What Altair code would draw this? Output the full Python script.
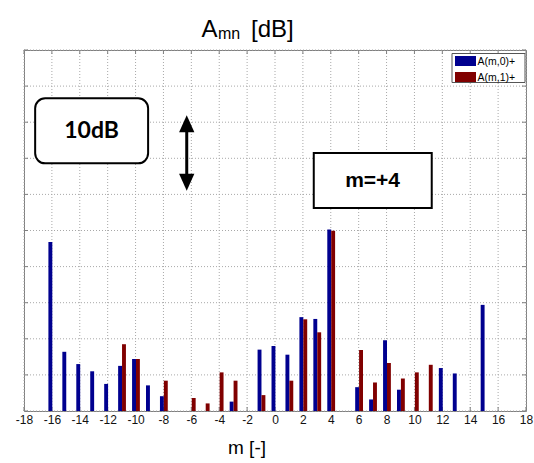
import altair as alt
import pandas as pd

# Modal amplitudes per circumferential order m, two radial families
m_n0 = [-16, -15, -14, -13, -12, -11, -10, -9, -8, -3, -1, 0, 1, 2, 3, 4, 6, 7, 8, 9, 12, 13, 15]
amp_n0 = [46.8, 16.4, 13.0, 11.0, 7.5, 12.5, 14.4, 7.1, 4.1, 2.6, 17.0, 18.0, 15.6, 26.0, 25.5,
          50.3, 6.6, 3.2, 19.6, 5.9, 11.9, 10.4, 29.4]
m_n1 = [-11, -10, -8, -6, -5, -4, -3, -1, 1, 2, 3, 4, 6, 7, 8, 9, 10, 11]
amp_n1 = [18.5, 14.4, 8.4, 3.6, 2.1, 10.7, 8.4, 4.4, 8.4, 25.4, 21.8, 49.9, 16.9, 7.9, 13.3,
          9.0, 10.7, 12.8]
series_names = ["A(m,0)+", "A(m,1)+"]
series_colors = ["#00008f", "#800000"]
x_ticks = list(range(-18, 19, 2))
y_grid = list(range(0, 101, 10))

FONT = "Liberation Sans"
W, H = 502, 361
FRAME = "#808080"

bars_df = pd.concat([
    pd.DataFrame({"m": m_n0, "A": amp_n0, "series": series_names[0]}),
    pd.DataFrame({"m": m_n1, "A": amp_n1, "series": series_names[1]}),
], ignore_index=True)

x_scale = alt.Scale(domain=[-18, 18], nice=False, zero=False)
y_scale = alt.Scale(domain=[0, 100], nice=False)
x_axis = alt.Axis(values=x_ticks, labelExpr="'' + datum.value", grid=False, ticks=False,
                  domain=False, labelFont=FONT, labelFontSize=12, labelColor="#111111",
                  labelPadding=3, labelFlush=False, labelOverlap=False, title=None)
y_axis = alt.Axis(values=y_grid, labels=False, ticks=False, domain=False, grid=False, title=None)


def xq(field):
    return alt.X(field, scale=x_scale, axis=x_axis)


def yq(field):
    return alt.Y(field, scale=y_scale, axis=y_axis)


# Dotted grid drawn from the tick arrays
xt_df = pd.DataFrame({"m": x_ticks})
yt_df = pd.DataFrame({"v": y_grid})
grid_x = alt.Chart(xt_df).mark_rule(
    color="#a8a8a8", strokeWidth=1, strokeDash=[1, 2]
).encode(x=xq("m:Q"))
grid_y = alt.Chart(yt_df).mark_rule(
    color="#a8a8a8", strokeWidth=1, strokeDash=[1, 2]
).encode(y=yq("v:Q"))

# Short inward ticks on all four sides of the frame
tick_bottom = alt.Chart(xt_df).mark_rule(color=FRAME, strokeWidth=1).encode(
    x=xq("m:Q"), y=alt.value(H), y2=alt.value(H - 4))
tick_top = alt.Chart(xt_df).mark_rule(color=FRAME, strokeWidth=1).encode(
    x=xq("m:Q"), y=alt.value(0), y2=alt.value(4))
tick_left = alt.Chart(yt_df).mark_rule(color=FRAME, strokeWidth=1).encode(
    y=yq("v:Q"), x=alt.value(0), x2=alt.value(4))
tick_right = alt.Chart(yt_df).mark_rule(color=FRAME, strokeWidth=1).encode(
    y=yq("v:Q"), x=alt.value(W), x2=alt.value(W - 4))

bars = alt.Chart(bars_df).transform_calculate(
    left=f"datum.series == '{series_names[0]}' ? datum.m - 0.25 : datum.m + 0.03"
).transform_calculate(
    right="datum.left + 0.28"
).mark_rect().encode(
    x=xq("left:Q"),
    x2="right:Q",
    y=yq("A:Q"),
    y2=alt.datum(0),
    color=alt.Color("series:N", scale=alt.Scale(domain=series_names, range=series_colors),
                    legend=None),
)

# Annotation: "10dB" scale box with a double-headed arrow
box10 = alt.Chart(pd.DataFrame({"x0": [-17.2], "x1": [-9.1], "y0": [68.6], "y1": [86.6]})).mark_rect(
    cornerRadius=10, fill="white", stroke="black", strokeWidth=2
).encode(x=xq("x0:Q"), x2="x1:Q", y=yq("y0:Q"), y2="y1:Q")

text10 = alt.Chart(pd.DataFrame({"x": [-13.15], "y": [77.6], "t": ["10dB"]})).mark_text(
    font="Lato", fontWeight="bold", fontSize=23, color="black", baseline="middle"
).encode(x=xq("x:Q"), y=yq("y:Q"), text="t:N")

shaft = alt.Chart(pd.DataFrame({"x": [-6.33], "y0": [64.5], "y1": [78.5]})).mark_rule(
    color="black", strokeWidth=3
).encode(x=xq("x:Q"), y=yq("y0:Q"), y2="y1:Q")

heads = alt.Chart(pd.DataFrame({"x": [-6.33, -6.33], "y": [79.6, 63.4], "dir": ["up", "down"]})).mark_point(
    filled=True, color="black", opacity=1, size=289
).encode(
    x=xq("x:Q"), y=yq("y:Q"),
    shape=alt.Shape("dir:N", scale=alt.Scale(domain=["up", "down"],
                                             range=["M-0.9,1L0,-1L0.9,1Z", "M-0.9,-1L0,1L0.9,-1Z"]),
                    legend=None),
)

# Annotation: dominant order box
box4 = alt.Chart(pd.DataFrame({"x0": [2.78], "x1": [11.24], "y0": [56.2], "y1": [71.5]})).mark_rect(
    fill="white", stroke="black", strokeWidth=2
).encode(x=xq("x0:Q"), x2="x1:Q", y=yq("y0:Q"), y2="y1:Q")

text4 = alt.Chart(pd.DataFrame({"x": [7.0], "y": [63.6], "t": ["m=+4"]})).mark_text(
    font=FONT, fontWeight="bold", fontSize=21, color="black", baseline="middle"
).encode(x=xq("x:Q"), y=yq("y:Q"), text="t:N")

# Legend box in the top-right corner
leg_df = pd.DataFrame({"series": series_names, "row": [0, 1]})
leg_box = alt.Chart(pd.DataFrame({"a": [0]})).mark_rect(
    fill="white", stroke="#555555", strokeWidth=1
).encode(x=alt.value(428), x2=alt.value(501), y=alt.value(3.5), y2=alt.value(32.5))
leg_sw = alt.Chart(leg_df).transform_calculate(
    top="6 + datum.row * 16", bot="16 + datum.row * 16"
).mark_rect().encode(
    x=alt.value(431), x2=alt.value(452),
    y=alt.Y("top:Q", scale=None), y2="bot:Q",
    color=alt.Color("series:N", scale=alt.Scale(domain=series_names, range=series_colors), legend=None),
)
leg_tx = alt.Chart(leg_df).transform_calculate(
    ty="11.5 + datum.row * 16"
).mark_text(font=FONT, fontSize=10.5, align="left", baseline="middle", color="black").encode(
    x=alt.value(453.5), y=alt.Y("ty:Q", scale=None), text="series:N"
)

# Title with subscript, and x-axis title
one = pd.DataFrame({"a": [0]})
t_A = alt.Chart(one).mark_text(text="A", font=FONT, fontSize=24, align="left",
                                baseline="alphabetic", color="black").encode(
    x=alt.value(177.5), y=alt.value(-13.5))
t_mn = alt.Chart(one).mark_text(text="mn", font=FONT, fontSize=16, align="left",
                                 baseline="alphabetic", color="black").encode(
    x=alt.value(194), y=alt.value(-11))
t_dB = alt.Chart(one).mark_text(text="[dB]", font=FONT, fontSize=24, align="left",
                                 baseline="alphabetic", color="black").encode(
    x=alt.value(227), y=alt.value(-13.5))
x_title = alt.Chart(one).mark_text(text="m [-]", font=FONT, fontSize=19, align="left",
                                    baseline="alphabetic", color="black").encode(
    x=alt.value(204), y=alt.value(404))

chart = alt.layer(
    grid_x, grid_y, tick_bottom, tick_top, tick_left, tick_right,
    bars, box10, text10, shaft, heads, box4, text4, leg_box, leg_sw, leg_tx,
    t_A, t_mn, t_dB, x_title,
).properties(
    width=W, height=H,
    autosize=alt.AutoSizeParams(type="none"),
    padding={"left": 24, "top": 50, "right": 8, "bottom": 52},
    background="white",
).configure_view(stroke=FRAME, strokeWidth=1)

chart.save("out.html", embed_options={"renderer": "svg", "actions": False})
